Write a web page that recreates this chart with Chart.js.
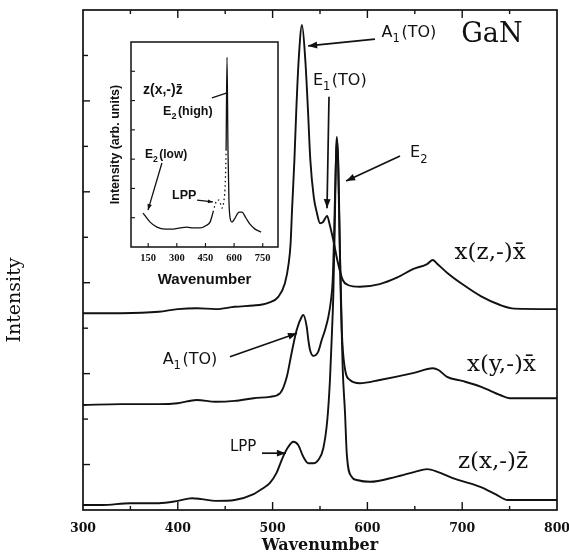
<!DOCTYPE html>
<html>
<head>
<meta charset="utf-8">
<script src="https://cdn.jsdelivr.net/npm/chart.js@4.4.1/dist/chart.umd.min.js"></script>
<style>
  body { margin: 0; background: #fff; }
  #wrap { position: relative; width: 569px; height: 560px; }
  #main { position: absolute; left: 0; top: 0; }
  #inset { position: absolute; left: 95px; top: 35px; }
</style>
</head>
<body>
<div id="wrap">
  <canvas id="main" width="569" height="560"></canvas>
  <canvas id="inset" width="190" height="260"></canvas>
</div>
<script>
// --- main panel: three spectra, vertical offsets already included (arb. units) ---
const xTickVals = [300, 400, 500, 600, 700, 800];

// x(z,-)x̄  (top)
const xzWave = [300, 340, 380, 400, 420, 440, 460, 480, 489, 496, 506, 513, 517, 519, 520.5, 523, 525, 527.5, 531,
  534.5, 537.3, 539.8, 543.4, 546.8, 550, 553, 557.5, 560, 564, 569, 574, 579.5, 592, 613, 631, 648, 663, 669,
  673, 684, 700, 720, 740, 755, 800];
const xzInt = [4.33, 4.33, 4.36, 4.42, 4.44, 4.42, 4.47, 4.50, 4.52, 4.56, 4.69, 4.99, 5.43, 5.87, 6.6, 7.7, 8.8, 9.9, 10.67,
  9.9, 8.8, 7.7, 6.89, 6.53, 6.31, 6.33, 6.47, 6.3, 5.94, 5.43, 5.06, 4.95, 4.91, 4.97, 5.11, 5.3, 5.41, 5.5,
  5.43, 5.22, 4.97, 4.7, 4.51, 4.43, 4.42];

// x(y,-)x̄  (middle)
const xyWave = [300, 340, 380, 400, 420, 440, 460, 480, 497, 508, 515, 520, 525.4, 530.7, 532.4, 536, 537.7, 539.5,
  543, 548, 551.8, 555.3, 558.8, 561.6, 563.4, 565, 566.5, 568, 569.5, 571, 573, 576, 581.6, 592, 613, 648, 669,
  675, 684, 700, 720, 740, 750, 800];
const xyInt = [2.31, 2.33, 2.33, 2.35, 2.42, 2.38, 2.40, 2.46, 2.49, 2.57, 2.93, 3.45, 3.96, 4.25, 4.29, 4.03, 3.74, 3.52,
  3.39, 3.48, 3.74, 3.96, 4.25, 4.62, 5.06, 6.16, 7.48, 8.14, 7.48, 5.72, 3.96, 3.15, 2.86, 2.79, 2.86, 3.01, 3.12,
  3.08, 2.93, 2.84, 2.71, 2.53, 2.46, 2.46];

// z(x,-)z̄  (bottom)
const zxWave = [300, 320, 350, 380, 400, 415, 425, 440, 460, 480, 490, 497, 504, 511, 516.6, 521.9, 527, 532.4, 537.7,
  543, 548.2, 553.5, 557.7, 560.5, 562.7, 564, 565.5, 567, 567.8, 569, 570.5, 572, 574, 576.4, 578.2, 583.4, 588.7,
  602.7, 630, 650, 663, 674, 690, 719, 735, 748, 800];
const zxInt = [0.11, 0.11, 0.15, 0.15, 0.2, 0.26, 0.24, 0.2, 0.22, 0.35, 0.48, 0.59, 0.81, 1.17, 1.39, 1.5, 1.43, 1.17, 1.03,
  1.03, 1.1, 1.36, 1.98, 2.86, 3.96, 4.69, 6.16, 7.92, 8.21, 7.7, 6.16, 4.62, 3.08, 2.13, 1.25, 0.73, 0.66,
  0.62, 0.73, 0.84, 0.9, 0.84, 0.7, 0.51, 0.35, 0.22, 0.22];

// --- inset: z(x,-)z̄ over a wide range ---
const insetTickVals = [150, 300, 450, 600, 750];
const insetWave = [123, 160, 196, 238, 280, 317, 353, 385, 421, 458, 474, 490, 500, 511, 521, 531, 537, 547, 552,
  558, 563, 568, 573, 579, 589, 605, 626, 641, 662, 683, 710, 741];
const insetInt = [1.16, 0.85, 0.68, 0.61, 0.61, 0.65, 0.68, 0.65, 0.65, 0.75, 0.85, 1.19, 1.43, 1.6, 1.6, 1.43, 1.33, 1.6, 1.95,
  3.31, 6.48, 3.31, 1.6, 0.99, 0.85, 0.99, 1.19, 1.19, 0.99, 0.78, 0.61, 0.51];

const black = '#111';
const serif = '"DejaVu Serif", "Liberation Serif", serif';
const sans = '"DejaVu Sans", "Liberation Sans", sans-serif';
const lsans = '"Liberation Sans", Arial, sans-serif';

// annotations, placed in data units
const mainLabels = [
  { parts: [['GaN']], x: 699, y: 10.45, size: 27, font: serif },
  { parts: [['A'], ['1', 1], ['(TO)']], x: 615, y: 10.5, size: 16, font: sans },
  { parts: [['E'], ['1', 1], ['(TO)']], x: 542.5, y: 9.44, size: 16, font: sans },
  { parts: [['E'], ['2', 1]], x: 645, y: 7.85, size: 16, font: sans },
  { parts: [['x(z,-)x\u0304']], x: 692, y: 5.65, size: 23, font: serif },
  { parts: [['x(y,-)x\u0304']], x: 705, y: 3.19, size: 23, font: serif },
  { parts: [['z(x,-)z\u0304']], x: 695.5, y: 1.06, size: 23, font: serif },
  { parts: [['A'], ['1', 1], ['(TO)']], x: 384, y: 3.3, size: 16, font: sans },
  { parts: [['LPP']], x: 455, y: 1.39, size: 15, font: sans }
];
const mainArrows = [
  [608, 10.36, 537.5, 10.21],
  [559.5, 9.09, 557.4, 6.64],
  [634.4, 7.79, 577.5, 7.24],
  [455, 3.37, 525.7, 3.89],
  [488.8, 1.25, 514, 1.25]
];
const insetLabels = [
  { parts: [['z(x,-)z\u0304']], x: 123, y: 5.36, size: 14, font: lsans },
  { parts: [['E'], ['2', 1], ['(high)']], x: 228, y: 4.64, size: 12.5, font: lsans },
  { parts: [['E'], ['2', 1], ['(low)']], x: 133, y: 3.14, size: 12, font: lsans },
  { parts: [['LPP']], x: 275, y: 1.74, size: 12.5, font: lsans }
];
const insetArrows = [
  [484, 5.09, 563, 5.26, 0],
  [222, 2.87, 149, 1.26, 6],
  [406, 1.6, 489, 1.54, 5]
];

function drawRich(ctx, parts, x, y, size, family, weight) {
  ctx.textBaseline = 'middle';
  ctx.textAlign = 'left';
  let cx = x;
  parts.forEach(([t, sub]) => {
    const s = sub ? size * 0.72 : size;
    ctx.font = `${weight || 'normal'} ${s}px ${family}`;
    ctx.fillText(t, cx, sub ? y + size * 0.4 : y);
    cx += ctx.measureText(t).width + (sub ? 1.5 : 0);
  });
}

function arrow(ctx, x1, y1, x2, y2, head) {
  ctx.beginPath(); ctx.moveTo(x1, y1); ctx.lineTo(x2, y2); ctx.stroke();
  if (!head) return;
  const a = Math.atan2(y2 - y1, x2 - x1), c = Math.cos(a), s = Math.sin(a), w = head * 0.38;
  ctx.beginPath();
  ctx.moveTo(x2, y2);
  ctx.lineTo(x2 - head * c + w * s, y2 - head * s - w * c);
  ctx.lineTo(x2 - head * c - w * s, y2 - head * s + w * c);
  ctx.closePath(); ctx.fill();
}

function tick(ctx, x1, y1, x2, y2) {
  ctx.beginPath(); ctx.moveTo(x1, y1); ctx.lineTo(x2, y2); ctx.stroke();
}

const mainDecor = {
  id: 'mainDecor',
  afterDraw(chart) {
    const { ctx, chartArea: a, scales: { x, y } } = chart;
    ctx.save();
    ctx.strokeStyle = black; ctx.fillStyle = black;
    ctx.lineWidth = 1.7;
    ctx.strokeRect(a.left, a.top, a.width, a.height);
    ctx.lineWidth = 1.4;
    for (let v = 350; v < 800; v += 50) {
      const px = x.getPixelForValue(v), len = v % 100 === 0 ? 8 : 4;
      tick(ctx, px, a.bottom, px, a.bottom - len);
      tick(ctx, px, a.top, px, a.top + len);
    }
    for (let v = 1; v < 11; v++) {
      const py = y.getPixelForValue(v);
      tick(ctx, a.left, py, a.left + (v % 2 ? 7 : 5), py);
    }
    mainLabels.forEach(l => drawRich(ctx, l.parts, x.getPixelForValue(l.x), y.getPixelForValue(l.y), l.size, l.font));
    ctx.lineWidth = 1.7;
    mainArrows.forEach(([x1, y1, x2, y2]) =>
      arrow(ctx, x.getPixelForValue(x1), y.getPixelForValue(y1), x.getPixelForValue(x2), y.getPixelForValue(y2), 9));
    // y axis name
    ctx.translate(a.left - 68, (a.top + a.bottom) / 2 + 40);
    ctx.rotate(-Math.PI / 2);
    ctx.font = `19px ${serif}`;
    ctx.textAlign = 'center'; ctx.textBaseline = 'middle';
    ctx.fillText('Intensity', 0, 0);
    ctx.restore();
  }
};

const insetDecor = {
  id: 'insetDecor',
  afterDraw(chart) {
    const { ctx, chartArea: a, scales: { x, y } } = chart;
    ctx.save();
    ctx.strokeStyle = black; ctx.fillStyle = black;
    ctx.lineWidth = 1.5;
    ctx.strokeRect(a.left, a.top, a.width, a.height);
    ctx.lineWidth = 1.1;
    insetTickVals.forEach(v => {
      const px = x.getPixelForValue(v);
      tick(ctx, px, a.bottom, px, a.bottom - 4);
    });
    for (let v = 1; v < 7; v++) {
      const py = y.getPixelForValue(v);
      tick(ctx, a.left, py, a.left + 4, py);
    }
    insetLabels.forEach(l => drawRich(ctx, l.parts, x.getPixelForValue(l.x), y.getPixelForValue(l.y), l.size, l.font, 'bold'));
    ctx.lineWidth = 1.3;
    insetArrows.forEach(([x1, y1, x2, y2, h]) =>
      arrow(ctx, x.getPixelForValue(x1), y.getPixelForValue(y1), x.getPixelForValue(x2), y.getPixelForValue(y2), h));
    ctx.restore();
  }
};

function series(wave, vals, width) {
  return {
    data: wave.map((w, i) => ({ x: w, y: vals[i] })),
    borderColor: black, borderWidth: width, pointRadius: 0,
    cubicInterpolationMode: 'monotone', fill: false
  };
}

new Chart(document.getElementById('main'), {
  type: 'line',
  data: { datasets: [series(xzWave, xzInt, 1.9), series(xyWave, xyInt, 1.9), series(zxWave, zxInt, 1.9)] },
  options: {
    responsive: false, animation: false, devicePixelRatio: 1,
    layout: { padding: { top: 10, right: 12, left: 0, bottom: 0 } },
    plugins: { legend: { display: false }, tooltip: { enabled: false } },
    scales: {
      x: {
        type: 'linear', min: 300, max: 800,
        afterBuildTicks: s => { s.ticks = xTickVals.map(v => ({ value: v })); },
        ticks: { color: black, maxRotation: 0, padding: 11, font: { family: serif, weight: 'bold', size: 12.5 } },
        grid: { display: false, drawTicks: false }, border: { display: false },
        title: { display: true, text: 'Wavenumber', color: black, padding: { top: 0, bottom: 5 },
                 font: { family: serif, weight: 'bold', size: 16 } },
        afterFit: s => { s.height = 50; s.paddingLeft = 0; s.paddingRight = 0; }
      },
      y: {
        min: 0, max: 11,
        ticks: { display: false, stepSize: 1 },
        grid: { display: false, drawTicks: false }, border: { display: false },
        afterFit: s => { s.width = 83; }
      }
    }
  },
  plugins: [mainDecor]
});

new Chart(document.getElementById('inset'), {
  type: 'line',
  data: {
    datasets: [Object.assign(series(insetWave, insetInt, 1.3), {
      segment: { borderDash: c => (c.p0.parsed.x >= 490 && c.p1.parsed.x <= 558) ? [1.5, 3] : undefined }
    })]
  },
  options: {
    responsive: false, animation: false, devicePixelRatio: 1,
    layout: { padding: { top: 7, right: 7, left: 0, bottom: 0 } },
    plugins: { legend: { display: false }, tooltip: { enabled: false } },
    scales: {
      x: {
        type: 'linear', min: 60, max: 830,
        afterBuildTicks: s => { s.ticks = insetTickVals.map(v => ({ value: v })); },
        ticks: { color: black, maxRotation: 0, padding: 5, font: { family: '"Liberation Serif", serif', weight: 'bold', size: 10.5 } },
        grid: { display: false, drawTicks: false }, border: { display: false },
        title: { display: true, text: 'Wavenumber', color: black, padding: { top: 0, bottom: 6 },
                 font: { family: lsans, weight: 'bold', size: 15 } },
        afterFit: s => { s.height = 48; s.paddingLeft = 0; s.paddingRight = 0; }
      },
      y: {
        min: 0, max: 7,
        ticks: { display: false, stepSize: 1 },
        grid: { display: false, drawTicks: false }, border: { display: false },
        title: { display: true, text: 'Intensity (arb. units)', color: black, padding: { top: 13, bottom: 0 },
                 font: { family: lsans, weight: 'bold', size: 12.5 } },
        afterFit: s => { s.width = 36; }
      }
    }
  },
  plugins: [insetDecor]
});
</script>
</body>
</html>
